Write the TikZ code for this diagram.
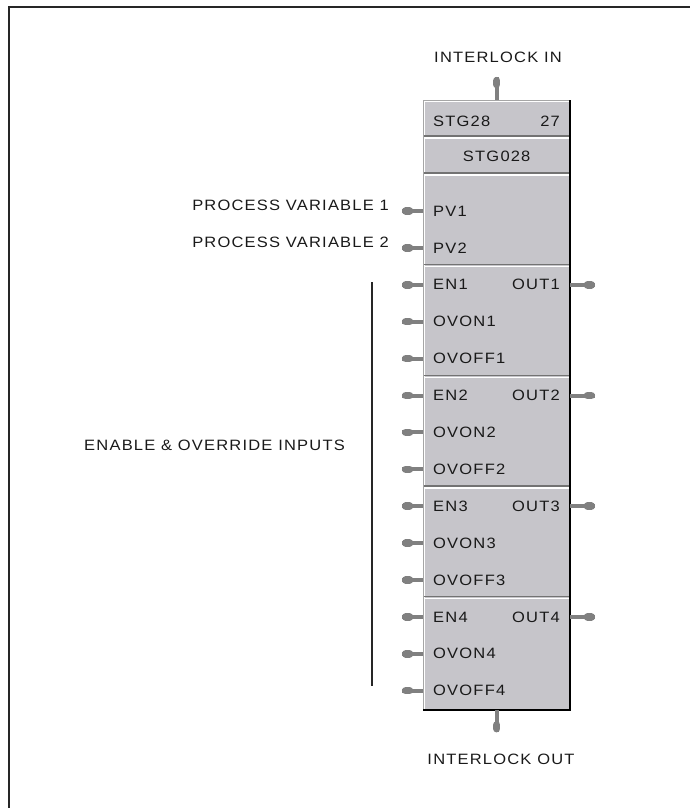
\documentclass[tikz,border=0pt]{standalone}
\usepackage{fontspec}
\setmainfont{Liberation Sans}[FakeStretch=1.1, LetterSpace=8]
\usetikzlibrary{calc}
\definecolor{blockgray}{RGB}{198,197,202}
\definecolor{pingray}{RGB}{128,128,128}

\begin{document}
\begin{tikzpicture}[x = 1pt, y = -1pt,
        lbl/.style = {font = \fontsize{15}{17}\selectfont, inner sep = 0pt, text = black!90},
        pinstem/.style = {pingray, line width = 4pt},
        pinknob/.style = {pingray, line width = 7.5pt, line cap = round},
        sepdark/.style = {black!55, line width = 1.2pt},
        seplight/.style = {white, line width = 1.2pt}] % STG28 function block
        \useasboundingbox (0, 0) rectangle (690, 808);
        \draw[line width = 2pt, black!85] (9, 808) -- (9, 7) -- (690, 7);

        % Block
        \node[fill = blockgray, minimum width = 147pt, minimum height = 610pt, inner sep = 0pt, anchor = north west] (stg) at (423, 100) {};
        \draw[gray!70] (stg.south west) -- (stg.north west) -- (stg.north east);
        \draw[white] ($(stg.south west) + (1.5, 0)$) -- ($(stg.north west) + (1.5, 1.5)$) -- ($(stg.north east) + (0, 1.5)$);
        \draw[black, line width = 2pt] (stg.north east) -- (stg.south east) -- (stg.south west);
        \foreach \y in {136, 173, 264.5, 375.2, 485.9, 596.6} {
            \draw[sepdark] (424, \y) -- (569, \y);
            \draw[seplight] (424, \y + 2) -- (569, \y + 2);
        }
        \node[lbl, anchor = west] (tag) at (433, 121) {STG28};
        \node[lbl, anchor = east] (num) at (560, 121) {27};
        \node[lbl] (blkname) at (stg.north |- 0, 156) {STG028};

        % Inputs
        \foreach \name [count = \k from 0] in {PV1, PV2, EN1, OVON1, OVOFF1, EN2, OVON2, OVOFF2, EN3, OVON3, OVOFF3, EN4, OVON4, OVOFF4} {
            \pgfmathsetmacro{\y}{211 + 36.9 * \k}
            \node[lbl, anchor = west] (in\k) at (433, \y) {\name};
            \coordinate (inpin\k) at (402, \y);
            \draw[pinstem] (inpin\k) -- (stg.west |- in\k);
            \draw[pinknob] ($(inpin\k) + (3.7, 0)$) -- ($(inpin\k) + (7.5, 0)$);
        }

        % Outputs
        \foreach \k [count = \n] in {2, 5, 8, 11} {
            \pgfmathsetmacro{\y}{211 + 36.9 * \k}
            \node[lbl, anchor = east] (out\n) at (560, \y) {OUT\n};
            \coordinate (outpin\n) at (595, \y);
            \draw[pinstem] (stg.east |- out\n) -- (outpin\n);
            \draw[pinknob] ($(outpin\n) + (-3.7, 0)$) -- ($(outpin\n) + (-7.5, 0)$);
        }

        % Interlock
        \node[lbl] (ilkin) at (498, 57) {INTERLOCK IN};
        \coordinate (ilkinpin) at ($(stg.north) + (0, -23)$);
        \draw[pinstem] (ilkinpin) -- (stg.north);
        \draw[pinknob] ($(ilkinpin) + (0, 3.7)$) -- ($(ilkinpin) + (0, 7.5)$);
        \node[lbl] (ilkout) at (501, 759) {INTERLOCK OUT};
        \coordinate (ilkoutpin) at ($(stg.south) + (0, 22)$);
        \draw[pinstem] (stg.south) -- (ilkoutpin);
        \draw[pinknob] ($(ilkoutpin) + (0, -3.7)$) -- ($(ilkoutpin) + (0, -7.5)$);

        % Signal names
        \node[lbl, anchor = east] (pvname1) at (389, 205) {PROCESS VARIABLE 1};
        \node[lbl, anchor = east] (pvname2) at (389, 242) {PROCESS VARIABLE 2};
        \node[lbl, anchor = east] (enname) at (345, 445) {ENABLE \& OVERRIDE INPUTS};
        \coordinate (brtop) at (372, 282);
        \coordinate (brbot) at (372, 686);
        \draw[line width = 1.5pt, black!85] (brtop) -- (brbot);
    \end{tikzpicture}
\end{document}
